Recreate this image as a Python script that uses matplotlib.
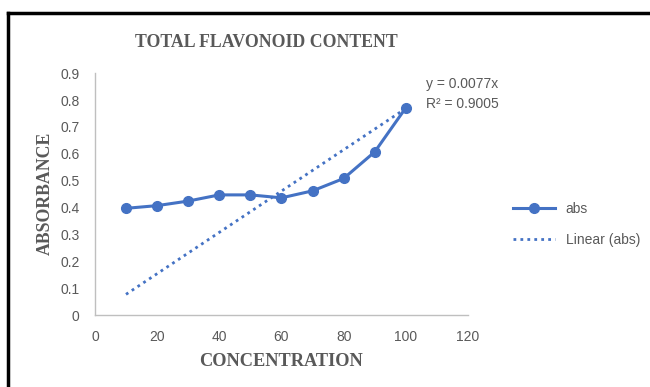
import numpy as np
import matplotlib.pyplot as plt
from matplotlib.lines import Line2D

conc = [10, 20, 30, 40, 50, 60, 70, 80, 90, 100]
absb = [0.397, 0.407, 0.424, 0.447, 0.447, 0.436, 0.462, 0.508, 0.607, 0.771]
xticks = [0, 20, 40, 60, 80, 100, 120]
yticks = [0, 0.1, 0.2, 0.3, 0.4, 0.5, 0.6, 0.7, 0.8, 0.9]

blue = '#4472C4'
grey = '#595959'
serif = 'Liberation Serif'
sans = 'Liberation Sans'

fig = plt.figure(figsize=(6.5, 3.87), dpi=100)
ax = fig.add_axes([0.146, 0.186, 0.574, 0.625])

x = np.array(conc)
y = np.array(absb)
# linear trend through origin
slope = np.sum(x * y) / np.sum(x * x)
ax.plot(x, slope * x, linestyle=(0, (1, 1.5)), color=blue, lw=2)
ax.plot(x, y, color=blue, lw=2.2, marker='o', markersize=7)

ax.set_xlim(0, 120)
ax.set_ylim(0, 0.9)
ax.set_xticks(xticks)
ax.set_yticks(yticks)
ax.set_xticklabels([str(t) for t in xticks])
ax.set_yticklabels([('%g' % t) for t in yticks])
ax.tick_params(length=0, labelsize=10, colors=grey, pad=11)
for lab in ax.get_xticklabels() + ax.get_yticklabels():
    lab.set_family(sans)
for s in ['top', 'right']:
    ax.spines[s].set_visible(False)
for s in ['left', 'bottom']:
    ax.spines[s].set_color('#BFBFBF')
    ax.spines[s].set_linewidth(1)

ax.text(106.5, 0.885, 'y = 0.0077x\nR² = 0.9005', fontsize=10, color=grey,
        family=sans, va='top', ha='left', linespacing=1.5)

fig.text(0.41, 0.891, 'TOTAL FLAVONOID CONTENT', ha='center', va='center',
         fontsize=12.8, fontweight='bold', family=serif, color=grey)
fig.text(0.432, 0.066, 'CONCENTRATION', ha='center', va='center',
         fontsize=13.2, fontweight='bold', family=serif, color=grey)
fig.text(0.069, 0.50, 'ABSORBANCE', ha='center', va='center', rotation=90,
         fontsize=12.8, fontweight='bold', family=serif, color=grey)

handles = [Line2D([], [], color=blue, lw=2.2, marker='o', markersize=7),
           Line2D([], [], color=blue, lw=2, linestyle=(0, (1, 1.5)))]
leg = fig.legend(handles, ['abs', 'Linear (abs)'], loc='center left',
                 bbox_to_anchor=(0.77, 0.42), frameon=False,
                 prop={'family': sans, 'size': 10}, labelspacing=1.2,
                 handlelength=3)
for t in leg.get_texts():
    t.set_color(grey)

# outer frame (top and left edges only visible)
fig.add_artist(Line2D([0.012, 1], [0.966, 0.966], color='black', lw=2.5))
fig.add_artist(Line2D([0.013, 0.013], [0, 0.966], color='black', lw=2.5))

fig.savefig('out.png', dpi=100)
